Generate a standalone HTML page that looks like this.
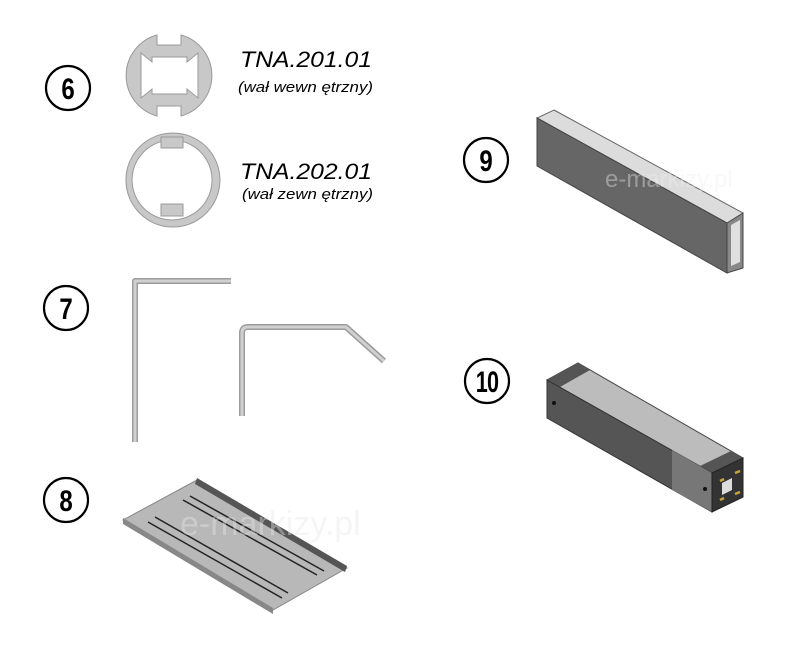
<!DOCTYPE html>
<html><head><style>
html,body{margin:0;padding:0;background:#fff;}
svg{display:block}
</style></head><body>
<svg width="800" height="650" viewBox="0 0 800 650" xmlns="http://www.w3.org/2000/svg">
<rect width="800" height="650" fill="#fff"/>
<g fill="none" stroke="#000" stroke-width="2.2">
<circle cx="68" cy="88" r="22"/>
<circle cx="66" cy="308" r="22"/>
<circle cx="66" cy="500" r="22"/>
<circle cx="486" cy="160" r="22"/>
<circle cx="487" cy="381" r="22"/>
</g>
<g font-family="Liberation Sans, sans-serif" font-size="30" font-weight="bold" text-anchor="middle" fill="#000">
<text transform="translate(68,99) scale(0.8,1)">6</text>
<text transform="translate(66,319) scale(0.8,1)">7</text>
<text transform="translate(66,511) scale(0.8,1)">8</text>
<text transform="translate(486,171) scale(0.8,1)">9</text>
<text transform="translate(487,392) scale(0.72,1)" letter-spacing="-1">10</text>
</g>
<g fill="#c8c8c8" stroke="#9a9a9a" stroke-width="1">
<path fill-rule="evenodd" d="M157,35 L157,45 L181,45 L181,35 A42,42 0 0 1 181,116 L181,106 L157,106 L157,116 A42,42 0 0 1 157,35 Z
M152,57 L187,57 L187,62 L198,53 L198,98 L187,89 L187,94 L152,94 L152,89 L141,98 L141,53 L152,62 Z"/>
<path fill-rule="evenodd" d="M173,133 A47,47 0 1 1 172.9,133 Z M172,140 A40,40 0 1 0 172.1,140 Z"/>
<rect x="161" y="137" width="22" height="11"/>
<rect x="161" y="204" width="22" height="12"/>
</g>
<g font-family="Liberation Sans, sans-serif" font-style="italic" fill="#000">
<text x="240" y="67" font-size="22" textLength="132" lengthAdjust="spacingAndGlyphs">TNA.201.01</text>
<text x="238" y="92" font-size="15" textLength="135" lengthAdjust="spacingAndGlyphs">(wał wewn ętrzny)</text>
<text x="240" y="179" font-size="22" textLength="132" lengthAdjust="spacingAndGlyphs">TNA.202.01</text>
<text x="242" y="199" font-size="15" textLength="131" lengthAdjust="spacingAndGlyphs">(wał zewn ętrzny)</text>
</g>
<g fill="none" stroke="#9c9c9c" stroke-width="6" stroke-linejoin="round">
<path d="M135,442 L135,281 L231,281"/>
<path d="M242,416 L242,333 Q242,327 248,327 L346,327 L384,361"/>
</g>
<g fill="none" stroke="#d0d0d0" stroke-width="3" stroke-linejoin="round">
<path d="M135,442 L135,281 L231,281"/>
<path d="M242,416 L242,333 Q242,327 248,327 L346,327 L384,361"/>
</g>
<polygon points="197,480 347,568 273,610 123,520" fill="#b8b8b8" stroke="#888" stroke-width="1"/>
<polygon points="197,478 347,566 345,572 195,484" fill="#555"/>
<polygon points="123,518 273,608 273,614 123,524" fill="#888"/>
<g stroke="#222" stroke-width="1.5">
<line x1="183" y1="500" x2="317" y2="575"/>
<line x1="190" y1="496" x2="324" y2="571"/>
<line x1="155" y1="517" x2="288" y2="593"/>
<line x1="148" y1="522" x2="282" y2="598"/>
</g>
<text x="180" y="535" font-family="Liberation Sans, sans-serif" font-size="34" fill="#e8e8e8" opacity="0.4">e-markizy.pl</text>
<polygon points="554,110 743,213 743,223 727,223 537,118" fill="#dcdcdc" stroke="#666" stroke-width="1"/>
<polygon points="537,118 727,223 727,273 537,166" fill="#666" stroke="#444" stroke-width="1"/>
<polygon points="727,223 743,213 743,268 727,273" fill="#888" stroke="#444" stroke-width="1"/>
<polygon points="731,225 740,220 740,262 731,266" fill="#e0e0e0"/>
<text x="605" y="187" font-family="Liberation Sans, sans-serif" font-size="24" fill="#eee" opacity="0.4">e-markizy.pl</text>
<polygon points="547,380 578,363 743,458 712,473" fill="#bcbcbc" stroke="#444" stroke-width="1"/>
<polygon points="547,380 578,363 590,370 560,387" fill="#555"/>
<polygon points="700,466 731,451 743,458 712,473" fill="#555"/>
<polygon points="547,380 712,473 712,512 547,418" fill="#555" stroke="#333" stroke-width="1"/>
<polygon points="672,450 712,473 712,512 672,490" fill="#777"/>
<polygon points="712,473 743,458 743,497 712,512" fill="#333" stroke="#222" stroke-width="1"/>
<polygon points="722,483 732,478 732,490 722,495" fill="#ddd"/>
<g stroke="#c9a43a" stroke-width="2.5">
<line x1="720" y1="481" x2="724" y2="479"/><line x1="735" y1="473" x2="740" y2="471"/>
<line x1="720" y1="500" x2="724" y2="498"/><line x1="735" y1="494" x2="740" y2="492"/>
</g>
<circle cx="554" cy="403" r="2" fill="#111"/>
<circle cx="705" cy="489" r="2" fill="#111"/>
</svg>
</body></html>
